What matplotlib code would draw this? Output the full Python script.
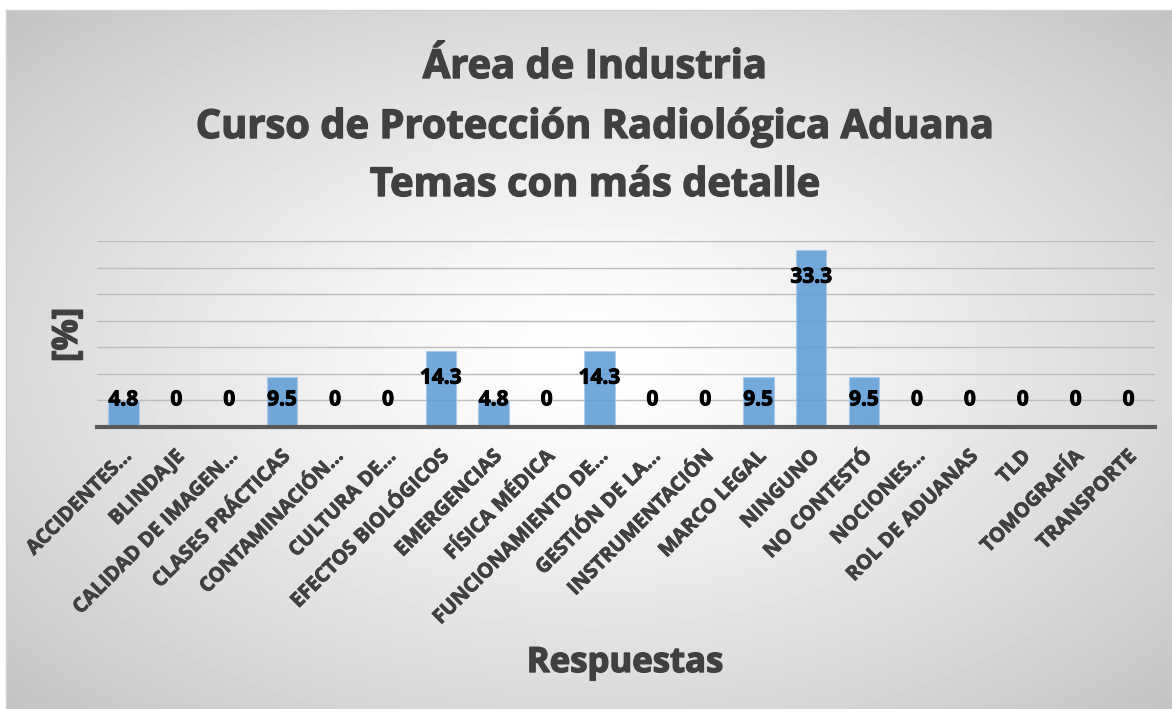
import matplotlib.pyplot as plt
import matplotlib.transforms as mtransforms
import matplotlib.patheffects as pe
import numpy as np

categories = ['ACCIDENTES...', 'BLINDAJE', 'CALIDAD DE IMAGEN...', 'CLASES PRÁCTICAS',
              'CONTAMINACIÓN...', 'CULTURA DE...', 'EFECTOS BIOLÓGICOS', 'EMERGENCIAS',
              'FÍSICA MÉDICA', 'FUNCIONAMIENTO DE...', 'GESTIÓN DE LA...', 'INSTRUMENTACIÓN',
              'MARCO LEGAL', 'NINGUNO', 'NO CONTESTÓ', 'NOCIONES...', 'ROL DE ADUANAS',
              'TLD', 'TOMOGRAFÍA', 'TRANSPORTE']
values = [4.8, 0, 0, 9.5, 0, 0, 14.3, 4.8, 0, 14.3, 0, 0, 9.5, 33.3, 9.5, 0, 0, 0, 0, 0]
title_lines = ['Área de Industria',
               'Curso de Protección Radiológica Aduana',
               'Temas con más detalle']
x_label = 'Respuestas'
y_label = '[%]'

W, H = 1172, 709
FONT = 'Open Sans'
TXT = '#404040'


def heavy(color, w):
    # Calibri bold looks heavier than Open Sans bold, thicken a bit
    return [pe.withStroke(linewidth=w, foreground=color)]


fig = plt.figure(figsize=(W / 100, H / 100), dpi=100)

# radial grey background of the chart area
bg = fig.add_axes([0, 0, 1, 1], zorder=-10)
bg.axis('off')
yy, xx = np.mgrid[0:H, 0:W]
cx, cy = 6 + (W - 6) / 2, 10 + (H - 10) / 2
r = np.sqrt(((xx - cx) / ((W - 6) / 2)) ** 2 + ((yy - cy) / ((H - 10) / 2)) ** 2)
shade = 1 - 0.15 * r ** 1.3
shade[:10, :] = 1
shade[:, :6] = 1
bg.imshow(shade, cmap='gray', vmin=0, vmax=1, extent=[0, W, H, 0], aspect='auto',
          interpolation='bilinear')
bg.plot([6, W], [10, 10], color='#d0d0d0', lw=1)
bg.plot([6, 6], [10, H], color='#d0d0d0', lw=1)
bg.set_xlim(0, W)
bg.set_ylim(H, 0)

ax = fig.add_axes([97 / W, (H - 427) / H, 1058 / W, 186 / H])
ax.set_facecolor('none')
x = np.arange(len(categories))
ax.bar(x, values, width=0.58, color='#5b9bd5', alpha=0.85, edgecolor='#a9c9ea',
       linewidth=0.8, zorder=2)
ax.set_xlim(-0.5, len(categories) - 0.5)
ax.set_ylim(0, 35)
ax.set_yticks(np.arange(5, 36, 5))
ax.yaxis.grid(True, color='#bcbcbc', lw=1)
ax.set_axisbelow(True)
ax.tick_params(axis='y', length=0, labelleft=False)
for s in ['top', 'right', 'left']:
    ax.spines[s].set_visible(False)
ax.spines['bottom'].set_color('#595959')
ax.spines['bottom'].set_linewidth(3)
ax.spines['bottom'].set_zorder(3)

for xi, v in zip(x, values):
    ax.text(xi, max(v - 5.1, 5.1), f'{v:g}', ha='center', va='center',
            fontsize=15, fontweight='bold', family=FONT, color='black', zorder=4,
            path_effects=heavy('black', 0.7))

ax.set_xticks(x)
ax.set_xticklabels(categories, rotation=45, ha='right', va='center',
                   rotation_mode='anchor', fontsize=14.5, fontweight='bold',
                   family=FONT, color=TXT)
ax.tick_params(axis='x', length=0, pad=0)
offset = mtransforms.ScaledTranslation(5 / 100, -27 / 100, fig.dpi_scale_trans)
for lab in ax.get_xticklabels():
    lab.set_transform(lab.get_transform() + offset)
    lab.set_path_effects(heavy(TXT, 0.6))

for line, base in zip(title_lines, [78, 138, 196]):
    fig.text(595 / W, 1 - base / H, line, ha='center', va='baseline', fontsize=28.7,
             fontweight='bold', family=FONT, color=TXT, path_effects=heavy(TXT, 1.0))
fig.text(625 / W, 1 - 672 / H, x_label, ha='center', va='baseline', fontsize=25,
         fontweight='bold', family=FONT, color=TXT, path_effects=heavy(TXT, 1.0))
fig.text(68 / W, 1 - 335 / H, y_label, ha='center', va='center', rotation=90,
         fontsize=25, fontweight='bold', family=FONT, color=TXT,
         path_effects=heavy(TXT, 1.0))

fig.savefig('out.png', dpi=100)
